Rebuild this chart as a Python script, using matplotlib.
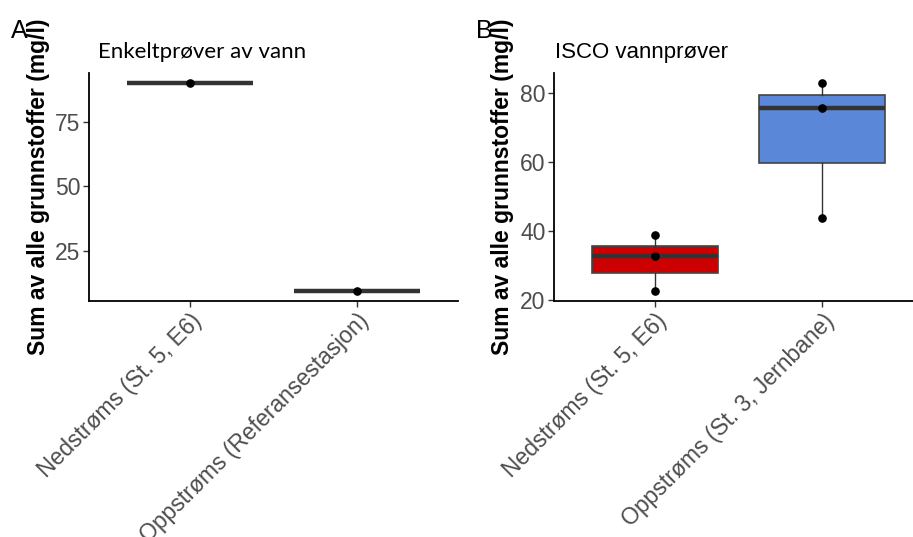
import matplotlib
matplotlib.use("Agg")
import matplotlib.pyplot as plt

# Panel A: single water samples
cats_a = ["Nedstrøms (St. 5, E6)", "Oppstrøms (Referansestasjon)"]
vals_a = [[90.0], [9.6]]
yticks_a = [25, 50, 75]

# Panel B: ISCO water samples
cats_b = ["Nedstrøms (St. 5, E6)", "Oppstrøms (St. 3, Jernbane)"]
vals_b = [[22.6, 32.6, 38.6], [43.6, 75.7, 82.7]]
yticks_b = [20, 40, 60, 80]
fills_b = ["#CC0000", "#5B87D9"]

ylabel = "Sum av alle grunnstoffer (mg/l)"

W, H = 913, 537
fig = plt.figure(figsize=(W / 100, H / 100), dpi=100)
plt.rcParams["font.family"] = ["Liberation Sans", "DejaVu Sans"]


def px_axes(left, top, right, bottom):
    return fig.add_axes([left / W, 1 - bottom / H, (right - left) / W, (bottom - top) / H])


def style(ax, cats, values, ticks, fills=None):
    pos = list(range(1, len(cats) + 1))
    bp = ax.boxplot(values, positions=pos, widths=0.75, patch_artist=True,
                    showfliers=False, whis=1.5,
                    boxprops=dict(edgecolor="#444444", linewidth=1.2),
                    medianprops=dict(color="#333333", linewidth=3.2, solid_capstyle="butt"),
                    whiskerprops=dict(color="#333333", linewidth=1.0),
                    capprops=dict(linewidth=0))
    for i, patch in enumerate(bp["boxes"]):
        patch.set_facecolor(fills[i] if fills else "white")
    for p, v in zip(pos, values):
        ax.plot([p] * len(v), v, "o", color="black", ms=5.2, zorder=5)
    ax.set_xlim(0.4, len(cats) + 0.6)
    allv = [x for v in values for x in v]
    lo, hi = min(allv), max(allv)
    pad = (hi - lo) * 0.05
    ax.set_ylim(lo - pad, hi + pad)
    ax.set_yticks(ticks)
    ax.set_xticks(pos)
    ax.set_xticklabels(cats, rotation=45, ha="right", va="top", rotation_mode="anchor")
    for side in ("top", "right"):
        ax.spines[side].set_visible(False)
    for side in ("left", "bottom"):
        ax.spines[side].set_linewidth(1.3)
        ax.spines[side].set_color("black")
    ax.tick_params(axis="both", length=4, width=1.0, color="#333333",
                   labelsize=16.5, labelcolor="#4D4D4D", pad=2)
    ax.set_facecolor("white")


ax1 = px_axes(89, 73, 458, 301)
style(ax1, cats_a, vals_a, yticks_a)
ax2 = px_axes(554, 73, 923, 301)
style(ax2, cats_b, vals_b, yticks_b, fills_b)

# y-axis labels
fig.text(38 / W, 1 - 187 / H, ylabel, rotation=90, ha="center", va="center",
         fontsize=16.5, fontweight="bold", color="black")
fig.text(503 / W, 1 - 187 / H, ylabel, rotation=90, ha="center", va="center",
         fontsize=16.5, fontweight="bold", color="black")

# panel titles
fig.text(98 / W, 1 - 58 / H, "Enkeltprøver av vann", ha="left", va="baseline",
         fontsize=16, family=["Lato", "DejaVu Sans"], color="black")
fig.text(555 / W, 1 - 58 / H, "ISCO vannprøver", ha="left", va="baseline",
         fontsize=16, color="black")

# panel letters
fig.text(11 / W, 1 - 38 / H, "A", ha="left", va="baseline", fontsize=18, color="black")
fig.text(476 / W, 1 - 38 / H, "B", ha="left", va="baseline", fontsize=18, color="black")

fig.savefig("out.png", dpi=100, facecolor="white")
